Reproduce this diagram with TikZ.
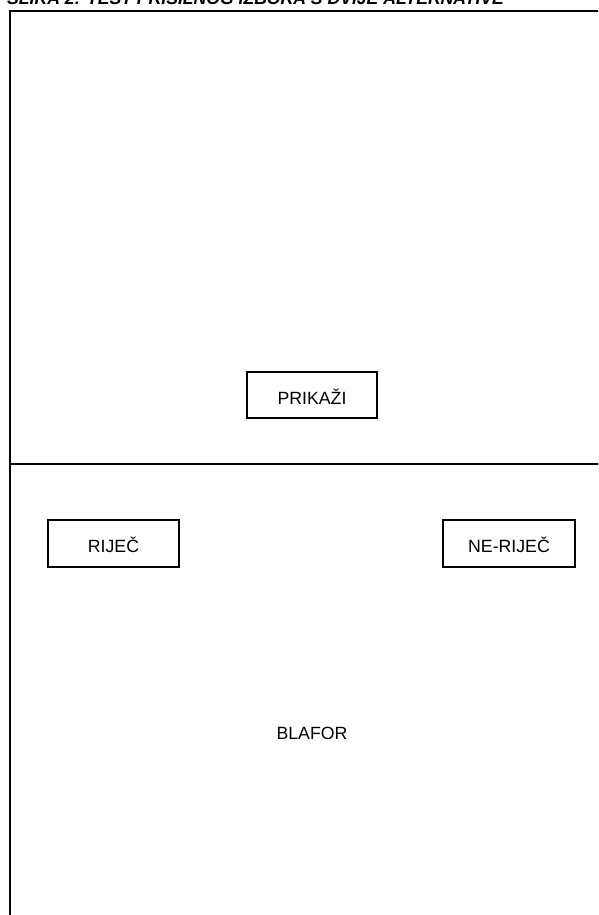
\documentclass[tikz,border=0pt]{standalone}
\usepackage{fontspec}
\setmainfont{Liberation Sans}

\begin{document}
\begin{tikzpicture}[x=1pt,y=-1pt,
  tipka/.style={draw,line width=1.2pt,minimum height=46pt,inner sep=0pt,
    text height=18pt,text depth=0pt,font=\fontsize{17.7}{20}\selectfont},
  natpis/.style={font=\fontsize{17.7}{20}\selectfont}]
\useasboundingbox (0,0) rectangle (598,915);
\clip (0,0) rectangle (598,915);
% Naslov (odrezan na vrhu)
\node[anchor=base west,inner sep=0pt,font=\fontsize{17.6}{20}\selectfont\bfseries\itshape]
  (naslov) at (7,5) {SLIKA 2: TEST PRISILNOG IZBORA S DVIJE ALTERNATIVE};
% Okvir ekrana
\coordinate (gl) at (10,11);
\coordinate (gd) at (605,11);
\coordinate (dl) at (10,925);
\coordinate (sl) at (10,464);
\coordinate (sd) at (605,464);
\draw[line width=2pt] (dl) -- (gl) -- (gd);
\draw[line width=2pt] (sl) -- (sd);
% Gornji dio
\node[tipka,minimum width=130pt] (prikazi) at (312,395) {PRIKAŽI};
% Donji dio
\node[tipka,minimum width=131pt,minimum height=47pt] (rijec) at (113.5,543.5) {RIJEČ};
\node[tipka,minimum width=132pt,minimum height=47pt] (nerijec) at (509,543.5) {NE-RIJEČ};
\node[natpis] (blafor) at (312,733.5) {BLAFOR};
\end{tikzpicture}
\end{document}
